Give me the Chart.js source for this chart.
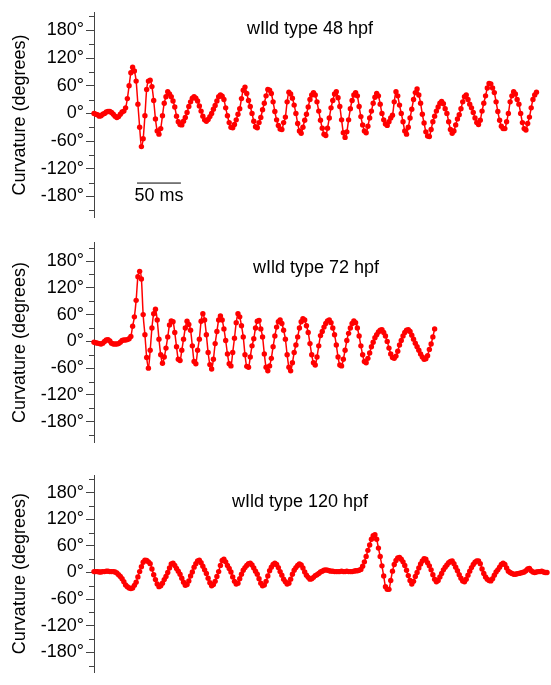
<!DOCTYPE html>
<html>
<head>
<meta charset="utf-8">
<script src="https://cdn.jsdelivr.net/npm/chart.js@4/dist/chart.umd.min.js"></script>
<style>
  html, body { margin: 0; padding: 0; background: #fff; }
  #wrap { position: relative; width: 551px; height: 685px; overflow: hidden; }
  canvas { position: absolute; left: 0; }
</style>
</head>
<body>
<div id="wrap">
  <canvas id="c48" width="551" height="230" style="top:0px"></canvas>
  <canvas id="c72" width="551" height="225" style="top:230px"></canvas>
  <canvas id="c120" width="551" height="225" style="top:460px"></canvas>
</div>
<script>
// body curvature traces, one sample every 2 ms
const SAMPLE_MS = 2;

// 48 hpf (t = 0 .. 504 ms), one row = 20 ms
const curv48 = [
  0, -2, -3, -6, -5, -2, 0, 3, 4, 4,
  2, -2, -6, -9, -7, -2, 3, 5, 12, 32,
  60, 88, 100, 92, 70, 20, -30, -72, -55, -5,
  52, 70, 72, 58, 28, -12, -38, -45, -33, -5,
  22, 36, 47, 42, 36, 27, 14, -6, -18, -24,
  -25, -17, -9, 2, 15, 25, 33, 36, 33, 27,
  16, 5, -6, -14, -17, -13, -7, 0, 9, 17,
  27, 36, 40, 37, 30, 12, -5, -20, -30, -31,
  -24, -14, -2, 10, 32, 50, 57, 43, 28, 15,
  0, -17, -29, -31, -20, -9, 8, 22, 38, 52,
  50, 43, 25, 4, -14, -26, -34, -35, -20, -8,
  25, 46, 42, 33, 18, 0, -22, -38, -43, -30,
  -15, -2, 14, 30, 40, 45, 40, 25, 5, -15,
  -32, -45, -48, -32, -10, 12, 28, 42, 47, 34,
  15, -14, -42, -52, -40, -14, 10, 28, 40, 45,
  38, 15, -7, -25, -38, -42, -28, -10, 5, 22,
  35, 43, 38, 20, 0, -14, -23, -26, -18, -10,
  -4, 25, 47, 38, 18, 0, -18, -38, -45, -30,
  -10, 9, 30, 45, 53, 40, 22, -2, -21, -40,
  -49, -50, -35, -18, -6, 5, 14, 22, 26, 21,
  10, 0, -18, -35, -43, -38, -25, -12, -3, 10,
  25, 36, 40, 30, 20, 12, 2, -10, -20, -24,
  -15, 5, 22, 38, 55, 65, 64, 55, 45, 25,
  4, -15, -28, -33, -33, -18, 0, 25, 38, 47,
  42, 30, 20, 0, -20, -33, -36, -22, -8, 12,
  30, 40, 46
];

// 72 hpf (t = 0 .. 388 ms)
const curv72 = [
  -2, -3, -4, -5, -6, -4, 0, 3, 4, 1,
  -4, -6, -6, -6, -5, -2, 2, 3, 3, 4,
  6, 11, 34, 55, 92, 145, 157, 140, 60, 15,
  -36, -60, -20, 30, 62, 72, 48, 5, -30, -49,
  -35, -15, 10, 37, 46, 44, 20, -12, -40, -43,
  -20, 5, 30, 45, 38, 25, -10, -45, -50, -20,
  5, 45, 62, 48, 15, -25, -52, -62, -40, -5,
  22, 48, 57, 48, 28, 2, -28, -50, -55, -25,
  7, 42, 62, 55, 35, 10, -30, -56, -58, -35,
  -10, 6, 30, 45, 47, 28, 10, -28, -58, -66,
  -55, -38, -12, 12, 32, 44, 48, 40, 25, 5,
  -30, -58, -66, -48, -25, -8, 10, 30, 44, 51,
  48, 35, 20, -5, -30, -48, -53, -35, -10, 13,
  22, 32, 40, 46, 48, 42, 30, 15, -8, -35,
  -53, -55, -40, -20, 2, 18, 30, 40, 46, 42,
  30, 12, -10, -30, -45, -48, -38, -26, -12, -2,
  8, 15, 21, 25, 26, 20, 12, 0, -15, -28,
  -36, -38, -33, -22, -8, 2, 12, 20, 25, 26,
  22, 14, 5, -4, -12, -20, -28, -35, -40, -39,
  -32, -18, -6, 10, 28
];

// 120 hpf (t = 0 .. 516 ms)
const curv120 = [
  2, 2, 2, 1, 1, 2, 2, 3, 3, 2,
  2, 2, 1, -1, -5, -9, -14, -21, -28, -32,
  -35, -36, -35, -29, -22, -10, 2, 13, 23, 28,
  27, 24, 20, 8, -5, -16, -26, -32, -30, -24,
  -16, -9, 0, 10, 19, 21, 16, 9, 3, -4,
  -13, -22, -29, -27, -19, -8, 1, 12, 20, 26,
  28, 22, 14, 6, -2, -13, -23, -30, -27, -20,
  -9, 2, 16, 27, 30, 24, 16, 9, 1, -10,
  -20, -26, -24, -14, -4, 5, 11, 16, 20, 21,
  17, 10, 3, -4, -14, -24, -30, -28, -20, -8,
  4, 12, 18, 21, 18, 11, 2, -6, -15, -21,
  -26, -24, -15, -4, 5, 11, 16, 19, 17, 10,
  1, -6, -11, -15, -14, -11, -7, -5, -2, 1,
  3, 5, 6, 5, 4, 3, 3, 2, 2, 2,
  2, 3, 2, 2, 3, 2, 2, 2, 3, 4,
  4, 5, 7, 14, 24, 36, 50, 62, 75, 83,
  85, 75, 55, 36, 15, -8, -32, -38, -38, -18,
  3, 18, 27, 33, 34, 30, 24, 16, 5, -7,
  -18, -26, -20, -9, 0, 10, 19, 26, 31, 30,
  22, 15, 6, -5, -15, -21, -18, -10, -2, 6,
  12, 17, 22, 25, 26, 20, 12, 4, -5, -13,
  -19, -21, -15, -6, 3, 11, 18, 23, 26, 26,
  20, 8, -2, -10, -15, -18, -19, -14, -6, 1,
  6, 12, 18, 21, 18, 10, 3, 0, -2, -4,
  -4, -3, -2, -1, 0, 1, 4, 8, 9, 4,
  1, 0, 1, 2, 2, 3, 1, 0, 0
];

// 50 ms scale bar (time span, angle it sits at)
const scaleBarMs = [49, 99];
const scaleBarDeg = -151;

const RED = '#ff0000';
const AXIS = '#444';
const FONT = 'Arial, "Liberation Sans", Helvetica, sans-serif';

Chart.defaults.font.family = FONT;
Chart.defaults.color = '#000';

// short unlabelled ticks every 30 degrees
const minorTicks = {
  id: 'minorTicks',
  afterDraw(chart) {
    const y = chart.scales.y;
    const ctx = chart.ctx;
    ctx.save();
    ctx.strokeStyle = AXIS;
    ctx.lineWidth = 1;
    y.ticks.forEach(t => {
      if (t.value % 60 === 0) return;
      const py = Math.round(y.getPixelForValue(t.value)) + 0.5;
      ctx.beginPath();
      ctx.moveTo(y.right - 5, py);
      ctx.lineTo(y.right, py);
      ctx.stroke();
    });
    ctx.restore();
  }
};

// free text: panel label and scale bar caption
const labels = {
  id: 'labels',
  afterDraw(chart, args, opts) {
    const ctx = chart.ctx;
    ctx.save();
    ctx.fillStyle = '#000';
    ctx.font = '18px ' + FONT;
    ctx.textAlign = 'center';
    ctx.textBaseline = 'middle';
    ctx.fillText(opts.title, opts.titleX, opts.titleY);
    if (opts.bar) {
      const x = chart.scales.x, y = chart.scales.y;
      const cx = x.getPixelForValue((scaleBarMs[0] + scaleBarMs[1]) / 2);
      const cy = y.getPixelForValue(scaleBarDeg) + 13;
      ctx.fillText('50 ms', cx, cy);
    }
    ctx.restore();
  }
};

function panel(id, curv, o) {
  const datasets = [{
    data: curv.map((v, i) => ({ x: i * SAMPLE_MS, y: v })),
    borderColor: RED,
    borderWidth: 1.5,
    pointRadius: 2.7,
    pointBorderWidth: 0,
    pointBackgroundColor: RED,
    cubicInterpolationMode: 'monotone',
    clip: false
  }];
  if (o.bar) {
    datasets.push({
      data: scaleBarMs.map(t => ({ x: t, y: scaleBarDeg })),
      borderColor: '#000',
      borderWidth: 1,
      pointRadius: 0,
      clip: false
    });
  }
  return new Chart(document.getElementById(id), {
    type: 'line',
    data: { datasets },
    options: {
      responsive: false,
      animation: false,
      events: [],
      layout: { padding: { top: o.padTop, bottom: o.padBottom, left: 0, right: 0 } },
      plugins: {
        legend: { display: false },
        tooltip: { enabled: false },
        labels: { title: o.title, titleX: o.titleX, titleY: o.titleY, bar: !!o.bar }
      },
      scales: {
        x: { type: 'linear', display: false, min: 0, max: 516 },
        y: {
          min: o.min,
          max: o.max,
          afterFit: s => { s.width = 94; },
          border: { display: true, color: AXIS, width: 1 },
          grid: {
            drawOnChartArea: false,
            drawTicks: true,
            tickLength: 8,
            tickWidth: 1,
            tickColor: c => (c.tick && c.tick.value % 60 === 0) ? AXIS : 'rgba(0,0,0,0)'
          },
          ticks: {
            stepSize: 30,
            includeBounds: false,
            autoSkip: false,
            padding: 2,
            color: '#000',
            font: { size: 18 },
            callback: v => (v % 60 === 0 ? v + '°' : '')
          },
          title: {
            display: true,
            text: 'Curvature (degrees)',
            color: '#000',
            font: { size: 18 },
            padding: { top: 9, bottom: 0 }
          }
        }
      }
    },
    plugins: [minorTicks, labels]
  });
}

panel('c48', curv48, {
  min: -225, max: 218, padTop: 10, padBottom: 12,
  title: 'wIld type 48 hpf', titleX: 310, titleY: 29, bar: true
});
panel('c72', curv72, {
  min: -226, max: 221, padTop: 5, padBottom: 10,
  title: 'wIld type 72 hpf', titleX: 316, titleY: 38
});
panel('c120', curv120, {
  min: -225, max: 220, padTop: 15, padBottom: 1,
  title: 'wIld type 120 hpf', titleX: 300, titleY: 42
});
</script>
</body>
</html>
